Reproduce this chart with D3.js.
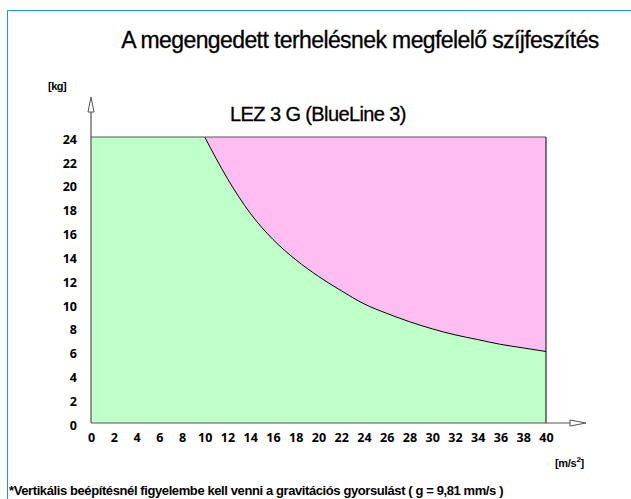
<!DOCTYPE html>
<html>
<head>
<meta charset="utf-8">
<script src="https://cdn.jsdelivr.net/npm/d3@7"></script>
<style>
  body { margin: 0; background: #fff; }
  text { font-family: "Liberation Sans", Arial, sans-serif; }
  .tick-label { font-family: "Open Sans", sans-serif; font-weight: bold; font-size: 12.5px; }
</style>
</head>
<body>
<div id="chart"></div>
<script>
// Chart size
const width = 631;
const height = 499;
const margin = {left: 91, right: 85, top: 137, bottom: 76};

// Data
const xTicks = [0, 2, 4, 6, 8, 10, 12, 14, 16, 18, 20, 22, 24, 26, 28, 30, 32, 34, 36, 38, 40];
const yTicks = [0, 2, 4, 6, 8, 10, 12, 14, 16, 18, 20, 22, 24];
// allowed belt tension limit curve (acceleration -> load)
const curveX = [10, 12, 14, 16, 18, 20, 22, 24, 26, 28, 30, 32, 34, 36, 38, 40];
const curveY = [24, 20.5, 17.6, 15.4, 13.7, 12.3, 11.1, 10.0, 9.2, 8.5, 7.9, 7.4, 7.0, 6.6, 6.3, 6.0];
const maxLoad = 24;
const maxAcc = 40;

const svg = d3.select("#chart")
  .append("svg")
  .attr("width", width)
  .attr("height", height);

// blue frame lines on top and left
svg.append("line").attr("x1", 7.5).attr("y1", 10.5).attr("x2", width).attr("y2", 10.5)
  .attr("stroke", "#1e90ff").attr("stroke-width", 1);
svg.append("line").attr("x1", 7.5).attr("y1", 10.5).attr("x2", 7.5).attr("y2", height)
  .attr("stroke", "#1e90ff").attr("stroke-width", 1);

let xScale = d3.scaleLinear()
  .domain([0, maxAcc])
  .range([margin.left, width - margin.right]);

let yScale = d3.scaleLinear()
  .domain([0, maxLoad])
  .range([height - margin.bottom, margin.top]);

const pts = curveX.map((x, i) => ({x: x, y: curveY[i]}));

// green: the whole allowed region background
svg.append("rect")
  .attr("x", xScale(0))
  .attr("y", yScale(maxLoad))
  .attr("width", xScale(maxAcc) - xScale(0))
  .attr("height", yScale(0) - yScale(maxLoad))
  .attr("fill", "#bfffca");

// pink area: above the curve up to 24
svg.append("path")
  .datum(pts)
  .attr("fill", "#ffbdf2")
  .attr("d", d3.area()
    .x(d => xScale(d.x))
    .y0(yScale(maxLoad))
    .y1(d => yScale(d.y))
    .curve(d3.curveMonotoneX));

// the limit curve
svg.append("path")
  .datum(pts)
  .attr("fill", "none")
  .attr("stroke", "#000")
  .attr("stroke-width", 1)
  .attr("d", d3.line()
    .x(d => xScale(d.x))
    .y(d => yScale(d.y))
    .curve(d3.curveMonotoneX));

// top border at 24 and right border at 40
svg.append("line")
  .attr("x1", xScale(0)).attr("x2", xScale(maxAcc))
  .attr("y1", yScale(maxLoad)).attr("y2", yScale(maxLoad))
  .attr("stroke", "#555").attr("stroke-width", 1);
svg.append("line")
  .attr("x1", xScale(maxAcc)).attr("x2", xScale(maxAcc))
  .attr("y1", yScale(maxLoad)).attr("y2", yScale(0))
  .attr("stroke", "#000").attr("stroke-width", 1);

// axes with open arrow heads
const axisCol = "#555";
svg.append("line")
  .attr("x1", xScale(0)).attr("x2", xScale(0))
  .attr("y1", yScale(0)).attr("y2", 112)
  .attr("stroke", axisCol).attr("stroke-width", 1.2);
svg.append("path")
  .attr("d", `M${xScale(0)},97 L${xScale(0) - 3},112 L${xScale(0) + 3},112 Z`)
  .attr("fill", "#fff").attr("stroke", axisCol).attr("stroke-width", 1);

svg.append("line")
  .attr("x1", xScale(0)).attr("x2", 570)
  .attr("y1", yScale(0)).attr("y2", yScale(0))
  .attr("stroke", axisCol).attr("stroke-width", 1.2);
svg.append("path")
  .attr("d", `M586,${yScale(0)} L570,${yScale(0) - 3} L570,${yScale(0) + 3} Z`)
  .attr("fill", "#fff").attr("stroke", axisCol).attr("stroke-width", 1);

// tick labels via axis generators, lines removed
const xAxis = svg.append("g")
  .attr("transform", `translate(0,${yScale(0)})`)
  .call(d3.axisBottom(xScale).tickValues(xTicks).tickSize(0).tickPadding(10));
xAxis.select(".domain").remove();
xAxis.selectAll("text").attr("class", "tick-label").attr("fill", "#000");

const yAxis = svg.append("g")
  .attr("transform", `translate(${xScale(0) - 14},0)`)
  .call(d3.axisLeft(yScale).tickValues(yTicks).tickSize(0).tickPadding(0));
yAxis.select(".domain").remove();
yAxis.selectAll("text").attr("class", "tick-label").attr("fill", "#000").attr("dy", "0.5em");

// titles
svg.append("text")
  .attr("x", 360).attr("y", 48)
  .attr("text-anchor", "middle")
  .attr("font-size", "23px")
  .attr("letter-spacing", "-0.6px")
  .attr("stroke", "#000").attr("stroke-width", 0.3)
  .text("A megengedett terhelésnek megfelelő szíjfeszítés");

svg.append("text")
  .attr("x", 318).attr("y", 121)
  .attr("text-anchor", "middle")
  .attr("font-size", "20px")
  .attr("letter-spacing", "-0.6px")
  .attr("stroke", "#000").attr("stroke-width", 0.3)
  .text("LEZ 3 G (BlueLine 3)");

svg.append("text")
  .attr("x", 48).attr("y", 90)
  .attr("font-size", "11px")
  .attr("font-weight", "bold")
  .attr("letter-spacing", "-0.5px")
  .text("[kg]");

const unit = svg.append("text")
  .attr("x", 555).attr("y", 467)
  .attr("font-size", "11px")
  .attr("font-weight", "bold")
  .attr("letter-spacing", "-0.3px");
unit.append("tspan").text("[m/s");
unit.append("tspan").attr("dy", -5).attr("font-size", "8px").text("2");
unit.append("tspan").attr("dy", 5).text("]");

svg.append("text")
  .attr("x", 9).attr("y", 495)
  .attr("font-size", "13px")
  .attr("font-weight", "bold")
  .attr("letter-spacing", "-0.4px")
  .text("*Vertikális beépítésnél figyelembe kell venni a gravitációs gyorsulást ( g = 9,81 mm/s )");
</script>
</body>
</html>
